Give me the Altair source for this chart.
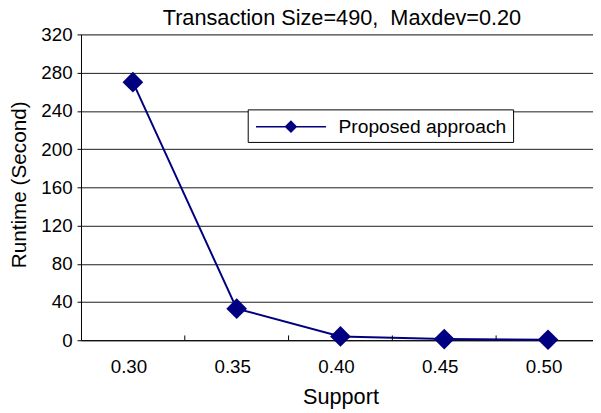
import altair as alt
import pandas as pd

# ---- data ----
support = ["0.30", "0.35", "0.40", "0.45", "0.50"]
runtime = [270, 33, 4, 1.2, 0.5]
series_name = "Proposed approach"
y_ticks = [0, 40, 80, 120, 160, 200, 240, 280, 320]
boundary_cats = support[1:]  # category boundaries where the x ticks sit

df = pd.DataFrame({"Support": support, "Runtime": runtime,
                   "Series": [series_name] * len(support)})
ticks_df = pd.DataFrame({"Support": boundary_cats})

FONT = "Liberation Sans"
NAVY = "#000080"

xscale = alt.Scale(type="band", paddingInner=0, paddingOuter=0, range=[0, 526])
yscale = alt.Scale(domain=[0, 320], nice=False, zero=True)

x_axis = alt.Axis(
    title="Support", titleFont=FONT, titleFontSize=22, titleFontWeight="normal",
    titleColor="black", titleBaseline="alphabetic", titleY=64,
    labelFont=FONT, labelFontSize=19, labelColor="black", labelAngle=0,
    labelPadding=18, labelOffset=-4, ticks=False, grid=False,
    domainColor="black", domainWidth=1, labelOverlap=False,
)
y_axis = alt.Axis(
    title="Runtime (Second)", titleFont=FONT, titleFontSize=21,
    titleFontWeight="normal", titleColor="black", titleX=-52, titleY=152,
    titleAngle=270, titleBaseline="bottom", titleAlign="center",
    values=y_ticks, tickCount=9, labelFont=FONT, labelFontSize=19,
    labelColor="black", labelPadding=5, tickSize=4, tickColor="black",
    tickWidth=1, labelOverlap=False,
    grid=True, gridColor="#1a1a1a", gridWidth=1, gridOpacity=1,
    domainColor="black", domainWidth=1,
)

legend_path = "M-0.88,0L5.94,0M2.02,0L2.53,-0.51L3.04,0L2.53,0.51Z"
color = alt.Color(
    "Series:N", scale=alt.Scale(range=[NAVY]),
    legend=alt.Legend(
        title=None, orient="none", legendX=169, legendY=76,
        symbolType=legend_path, symbolSize=433, symbolStrokeWidth=1.5,
        symbolFillColor=NAVY, symbolStrokeColor=NAVY,
        labelFont=FONT, labelFontSize=19.5, labelColor="black", labelOffset=63,
        labelLimit=400,
        strokeColor="black", fillColor="white", padding=6, cornerRadius=0,
    ),
)

x_enc = alt.X("Support:O", sort=support, scale=xscale, axis=x_axis)
y_enc = alt.Y("Runtime:Q", scale=yscale, axis=y_axis)

base = alt.Chart(df).encode(x=x_enc, y=y_enc, color=color)
line = base.mark_line(strokeWidth=2)
points = base.mark_point(shape="diamond", filled=True, size=441, opacity=1)

ticks = alt.Chart(ticks_df).mark_rule(color="black", strokeWidth=1).encode(
    x=alt.X("Support:O", sort=support, bandPosition=0, scale=xscale, axis=x_axis),
    y=alt.YDatum(0, scale=yscale, axis=y_axis),
    y2=alt.datum(5),
)

chart = alt.layer(line, points, ticks).properties(
    width=519, height=310,
    autosize=alt.AutoSizeParams(type="none"),
    padding={"left": 74, "top": 24, "right": 0, "bottom": 71},
    title=alt.TitleParams(
        "Transaction Size=490,\u00a0\u00a0Maxdev=0.20", font=FONT, fontSize=22,
        fontWeight="normal", color="black", anchor="middle", dx=5, dy=21,
        baseline="alphabetic", offset=0,
    ),
).configure_view(stroke=None).configure(background="white")

chart.save("out.html", embed_options={"renderer": "svg", "actions": False})
